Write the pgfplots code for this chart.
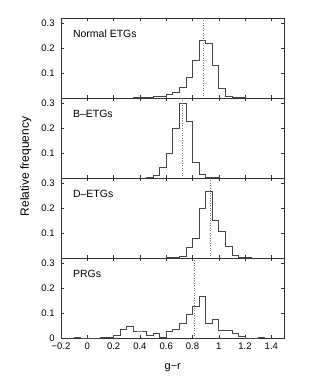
\documentclass[border=0pt]{standalone}
\usepackage{pgfplots}
\pgfplotsset{compat=1.18}
\usepackage{fontspec}
\setmainfont{Liberation Sans}
\begin{document}
\pgfplotsset{
  panel/.style={
    scale only axis, width=223.4pt, height=80pt,
    xmin=-0.2, xmax=1.5, ymin=0, ymax=0.32,
    xtick={-0.2,0,0.2,0.4,0.6,0.8,1.0,1.2,1.4},
    ytick={0,0.1,0.2,0.3},
    tick align=inside, tick pos=both, major tick length=3pt,
    axis line style={black!80, line width=0.6pt},
    every tick/.style={black!80, line width=0.5pt},
    tick label style={font=\fontsize{9.5}{11}\selectfont},
    /pgf/number format/assume math mode=true,
    yticklabel style={xshift=-3pt},
    anchor=south west,
  },
  hist/.style={const plot, black!72, line width=0.65pt, mark=none},
  med/.style={black!55, dotted, line width=0.5pt},
}
\begin{tikzpicture}
\useasboundingbox (-58.3pt,-38.5pt) rectangle (255.7pt,338.5pt);
% ---------- Normal ETGs
\begin{axis}[panel, at={(0,240pt)}, xticklabels={}, yticklabels={,0.1,0.2,0.3}]
\addplot[hist] coordinates {
(0.10,0.001) (0.15,0.001) (0.20,0.002) (0.25,0.002) (0.30,0.002) (0.35,0.003)
(0.40,0.004) (0.45,0.005) (0.50,0.007) (0.55,0.010) (0.60,0.015) (0.65,0.023)
(0.70,0.043) (0.75,0.083) (0.80,0.154) (0.85,0.233) (0.90,0.220) (0.95,0.133)
(1.00,0.040) (1.05,0.008) (1.10,0.004) (1.15,0.003) (1.20,0.002) (1.25,0.002)
(1.30,0.001) (1.35,0.000)};
\addplot[med] coordinates {(0.885,0) (0.885,0.32)};
\node[anchor=west, font=\fontsize{10.5}{12}\selectfont] at (rel axis cs:0,0.8125) [xshift=8.4pt] {Normal ETGs};
\end{axis}
% ---------- B-ETGs
\begin{axis}[panel, at={(0,160pt)}, xticklabels={}, yticklabels={,0.1,0.2,0.3}]
\addplot[hist] coordinates {
(0.40,0.002) (0.45,0.006) (0.50,0.013) (0.55,0.043) (0.60,0.100) (0.65,0.199)
(0.70,0.300) (0.75,0.229) (0.80,0.064) (0.85,0.016) (0.90,0.005) (0.95,0.004)
(1.00,0.001) (1.05,0.000)};
\addplot[med] coordinates {(0.724,0) (0.724,0.32)};
\node[anchor=west, font=\fontsize{10.5}{12}\selectfont] at (rel axis cs:0,0.8125) [xshift=8.4pt] {B–ETGs};
\end{axis}
% ---------- D-ETGs
\begin{axis}[panel, at={(0,80pt)}, xticklabels={}, yticklabels={,0.1,0.2,0.3}]
\addplot[hist] coordinates {
(-0.05,0.000) (0.00,0.002) (0.05,0.002) (0.10,0.000) (0.15,0.000) (0.20,0.000)
(0.25,0.000) (0.30,0.000) (0.35,0.000) (0.40,0.002) (0.45,0.000) (0.50,0.001)
(0.55,0.002) (0.60,0.003) (0.65,0.003) (0.70,0.008) (0.75,0.046) (0.80,0.082)
(0.85,0.199) (0.90,0.270) (0.95,0.153) (1.00,0.110) (1.05,0.047) (1.10,0.012)
(1.15,0.005) (1.20,0.003) (1.25,0.002) (1.30,0.002) (1.35,0.002) (1.40,0.000)};
\addplot[med] coordinates {(0.934,0) (0.934,0.32)};
\node[anchor=west, font=\fontsize{10.5}{12}\selectfont] at (rel axis cs:0,0.8125) [xshift=8.4pt] {D–ETGs};
\end{axis}
% ---------- PRGs
\begin{axis}[panel, at={(0,0pt)},
  xticklabels={−0.2,0,0.2,0.4,0.6,0.8,1,1.2,1.4},
  yticklabels={0,0.1,0.2,0.3},
  xticklabel style={yshift=-1pt}]
\addplot[hist] coordinates {
(-0.10,0.004) (-0.05,0.000) (0.00,0.000) (0.05,0.000) (0.10,0.005) (0.15,0.005)
(0.20,0.013) (0.25,0.038) (0.30,0.049) (0.35,0.030) (0.40,0.030) (0.45,0.013)
(0.50,0.019) (0.55,0.005) (0.60,0.027) (0.65,0.035) (0.70,0.060) (0.75,0.096)
(0.80,0.128) (0.85,0.170) (0.90,0.062) (0.95,0.076) (1.00,0.033) (1.05,0.033)
(1.10,0.022) (1.15,0.010) (1.20,0.000) (1.25,0.000) (1.30,0.003) (1.35,0.000)};
\addplot[med] coordinates {(0.815,0) (0.815,0.32)};
\node[anchor=west, font=\fontsize{10.5}{12}\selectfont] at (rel axis cs:0,0.8125) [xshift=8.4pt] {PRGs};
\end{axis}
\node[rotate=90, font=\fontsize{12}{14}\selectfont] at (-35.3pt,172pt) {Relative frequency};
\node[font=\fontsize{11}{13}\selectfont] at (111.7pt,-29.5pt) {g−r};
\end{tikzpicture}
\end{document}
